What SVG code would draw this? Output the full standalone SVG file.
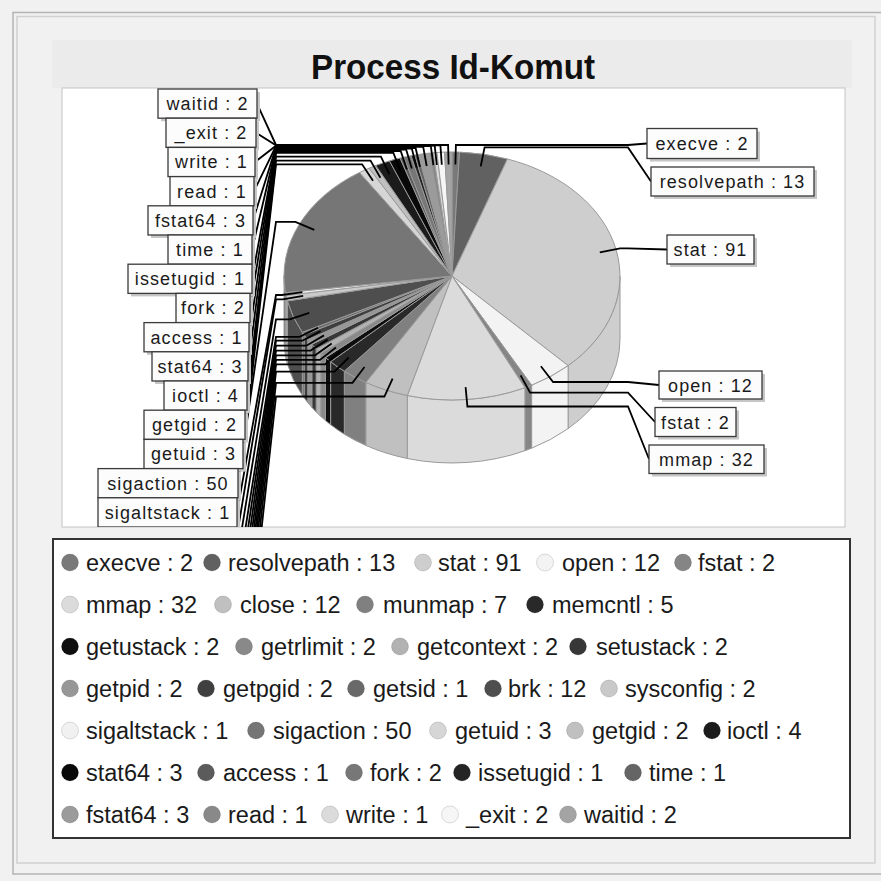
<svg xmlns="http://www.w3.org/2000/svg" width="881" height="881" viewBox="0 0 881 881">
<defs>
<style>
.panel{fill:#f1f1f1}
.frame-o{fill:none;stroke:#b4b4b4;stroke-width:1.5}
.frame-i{fill:none;stroke:#d0d0d0;stroke-width:1.5}
.title{font-family:"Liberation Sans",Arial,sans-serif;font-weight:bold;font-size:35px;fill:#111;text-anchor:middle}
.slice{stroke:#9a9a9a;stroke-width:1;stroke-linejoin:round}
.link{fill:none;stroke:#000;stroke-width:1.8;stroke-linejoin:miter}
.shadow{fill:#c6c6c6}
.box{fill:#fcfcfc;stroke:#3a3a3a;stroke-width:1.3}
.lt{font-family:"Liberation Sans",Arial,sans-serif;font-size:18px;letter-spacing:1.1px;fill:#1a1a1a;text-anchor:middle}
.legbox{fill:#fff;stroke:#333;stroke-width:2}
.lg{font-family:"Liberation Sans",Arial,sans-serif;font-size:23.5px;fill:#1a1a1a}
.dot{stroke:#000;stroke-opacity:.13;stroke-width:1}
</style>
<clipPath id="plotClip"><rect x="62" y="88" width="783" height="439"/></clipPath>
</defs>

<!-- panel background and etched frame -->
<rect class="panel" x="0" y="0" width="881" height="881"/>
<rect class="frame-o" x="13" y="12.5" width="872" height="861.5"/>
<rect class="frame-i" x="17" y="16.5" width="858" height="846.5"/>

<!-- title band -->
<rect x="52" y="40" width="800" height="48" fill="#ebebeb"/>
<text class="title" x="453" y="79" textLength="284" lengthAdjust="spacingAndGlyphs">Process Id-Komut</text>

<!-- plot area -->
<rect x="62" y="88" width="783" height="439" fill="#fff" stroke="#c4c4c4" stroke-width="1"/>

<g clip-path="url(#plotClip)">
<!-- pie: side wall (front half) then top face per section -->
<g id="pie">
<g id="slice-execve"><path class="slice" fill="#797979" d="M452,276 L452,152 A168,124 0 0 1 459.5,152.1 Z"/></g>
<g id="slice-resolvepath"><path class="slice" fill="#616161" d="M452,276 L459.5,152.1 A168,124 0 0 1 507.5,159 Z"/></g>
<g id="slice-stat">
<path class="slice" fill="#cecece" d="M620,276 A168,124 0 0 1 568.1,365.6 L568.1,428.6 A168,124 0 0 0 620,339 Z"/>
<path class="slice" fill="#cecece" d="M452,276 L507.5,159 A168,124 0 0 1 568.1,365.6 Z"/></g>
<g id="slice-open">
<path class="slice" fill="#f3f3f3" d="M568.1,365.6 A168,124 0 0 1 531.6,385.2 L531.6,448.2 A168,124 0 0 0 568.1,428.6 Z"/>
<path class="slice" fill="#f3f3f3" d="M452,276 L568.1,365.6 A168,124 0 0 1 531.6,385.2 Z"/></g>
<g id="slice-fstat">
<path class="slice" fill="#858585" d="M531.6,385.2 A168,124 0 0 1 524.9,387.7 L524.9,450.7 A168,124 0 0 0 531.6,448.2 Z"/>
<path class="slice" fill="#858585" d="M452,276 L531.6,385.2 A168,124 0 0 1 524.9,387.7 Z"/></g>
<g id="slice-mmap">
<path class="slice" fill="#dbdbdb" d="M524.9,387.7 A168,124 0 0 1 407.3,395.5 L407.3,458.5 A168,124 0 0 0 524.9,450.7 Z"/>
<path class="slice" fill="#dbdbdb" d="M452,276 L524.9,387.7 A168,124 0 0 1 407.3,395.5 Z"/></g>
<g id="slice-close">
<path class="slice" fill="#c0c0c0" d="M407.3,395.5 A168,124 0 0 1 365.8,382.4 L365.8,445.4 A168,124 0 0 0 407.3,458.5 Z"/>
<path class="slice" fill="#c0c0c0" d="M452,276 L407.3,395.5 A168,124 0 0 1 365.8,382.4 Z"/></g>
<g id="slice-munmap">
<path class="slice" fill="#808080" d="M365.8,382.4 A168,124 0 0 1 344.3,371.2 L344.3,434.2 A168,124 0 0 0 365.8,445.4 Z"/>
<path class="slice" fill="#808080" d="M452,276 L365.8,382.4 A168,124 0 0 1 344.3,371.2 Z"/></g>
<g id="slice-memcntl">
<path class="slice" fill="#292929" d="M344.3,371.2 A168,124 0 0 1 330.6,361.7 L330.6,424.7 A168,124 0 0 0 344.3,434.2 Z"/>
<path class="slice" fill="#292929" d="M452,276 L344.3,371.2 A168,124 0 0 1 330.6,361.7 Z"/></g>
<g id="slice-getustack">
<path class="slice" fill="#0e0e0e" d="M330.6,361.7 A168,124 0 0 1 325.5,357.6 L325.5,420.6 A168,124 0 0 0 330.6,424.7 Z"/>
<path class="slice" fill="#0e0e0e" d="M452,276 L330.6,361.7 A168,124 0 0 1 325.5,357.6 Z"/></g>
<g id="slice-getrlimit">
<path class="slice" fill="#898989" d="M325.5,357.6 A168,124 0 0 1 320.7,353.3 L320.7,416.3 A168,124 0 0 0 325.5,420.6 Z"/>
<path class="slice" fill="#898989" d="M452,276 L325.5,357.6 A168,124 0 0 1 320.7,353.3 Z"/></g>
<g id="slice-getcontext">
<path class="slice" fill="#b2b2b2" d="M320.7,353.3 A168,124 0 0 1 316.1,348.9 L316.1,411.9 A168,124 0 0 0 320.7,416.3 Z"/>
<path class="slice" fill="#b2b2b2" d="M452,276 L320.7,353.3 A168,124 0 0 1 316.1,348.9 Z"/></g>
<g id="slice-setustack">
<path class="slice" fill="#373737" d="M316.1,348.9 A168,124 0 0 1 311.8,344.3 L311.8,407.3 A168,124 0 0 0 316.1,411.9 Z"/>
<path class="slice" fill="#373737" d="M452,276 L316.1,348.9 A168,124 0 0 1 311.8,344.3 Z"/></g>
<g id="slice-getpid">
<path class="slice" fill="#979797" d="M311.8,344.3 A168,124 0 0 1 307.8,339.6 L307.8,402.6 A168,124 0 0 0 311.8,407.3 Z"/>
<path class="slice" fill="#979797" d="M452,276 L311.8,344.3 A168,124 0 0 1 307.8,339.6 Z"/></g>
<g id="slice-getpgid">
<path class="slice" fill="#404040" d="M307.8,339.6 A168,124 0 0 1 304.1,334.8 L304.1,397.8 A168,124 0 0 0 307.8,402.6 Z"/>
<path class="slice" fill="#404040" d="M452,276 L307.8,339.6 A168,124 0 0 1 304.1,334.8 Z"/></g>
<g id="slice-getsid">
<path class="slice" fill="#696969" d="M304.1,334.8 A168,124 0 0 1 302.3,332.3 L302.3,395.3 A168,124 0 0 0 304.1,397.8 Z"/>
<path class="slice" fill="#696969" d="M452,276 L304.1,334.8 A168,124 0 0 1 302.3,332.3 Z"/></g>
<g id="slice-brk">
<path class="slice" fill="#4e4e4e" d="M302.3,332.3 A168,124 0 0 1 287.4,300.9 L287.4,363.9 A168,124 0 0 0 302.3,395.3 Z"/>
<path class="slice" fill="#4e4e4e" d="M452,276 L302.3,332.3 A168,124 0 0 1 287.4,300.9 Z"/></g>
<g id="slice-sysconfig">
<path class="slice" fill="#c9c9c9" d="M287.4,300.9 A168,124 0 0 1 286.1,295.4 L286.1,358.4 A168,124 0 0 0 287.4,363.9 Z"/>
<path class="slice" fill="#c9c9c9" d="M452,276 L287.4,300.9 A168,124 0 0 1 286.1,295.4 Z"/></g>
<g id="slice-sigaltstack">
<path class="slice" fill="#f1f1f1" d="M286.1,295.4 A168,124 0 0 1 285.5,292.6 L285.5,355.6 A168,124 0 0 0 286.1,358.4 Z"/>
<path class="slice" fill="#f1f1f1" d="M452,276 L286.1,295.4 A168,124 0 0 1 285.5,292.6 Z"/></g>
<g id="slice-sigaction">
<path class="slice" fill="#767676" d="M285.5,292.6 A168,124 0 0 1 284,276 L284,339 A168,124 0 0 0 285.5,355.6 Z"/>
<path class="slice" fill="#767676" d="M452,276 L285.5,292.6 A168,124 0 0 1 359.5,172.5 Z"/></g>
<g id="slice-getuid"><path class="slice" fill="#d6d6d6" d="M452,276 L359.5,172.5 A168,124 0 0 1 369.1,168.2 Z"/></g>
<g id="slice-getgid"><path class="slice" fill="#c0c0c0" d="M452,276 L369.1,168.2 A168,124 0 0 1 375.7,165.5 Z"/></g>
<g id="slice-ioctl"><path class="slice" fill="#1b1b1b" d="M452,276 L375.7,165.5 A168,124 0 0 1 389.5,160.9 Z"/></g>
<g id="slice-stat64"><path class="slice" fill="#090909" d="M452,276 L389.5,160.9 A168,124 0 0 1 400.1,158.1 Z"/></g>
<g id="slice-access"><path class="slice" fill="#5b5b5b" d="M452,276 L400.1,158.1 A168,124 0 0 1 403.7,157.2 Z"/></g>
<g id="slice-fork"><path class="slice" fill="#777777" d="M452,276 L403.7,157.2 A168,124 0 0 1 411,155.8 Z"/></g>
<g id="slice-issetugid"><path class="slice" fill="#242424" d="M452,276 L411,155.8 A168,124 0 0 1 414.6,155.1 Z"/></g>
<g id="slice-time"><path class="slice" fill="#656565" d="M452,276 L414.6,155.1 A168,124 0 0 1 418.3,154.5 Z"/></g>
<g id="slice-fstat64"><path class="slice" fill="#9b9b9b" d="M452,276 L418.3,154.5 A168,124 0 0 1 429.4,153.1 Z"/></g>
<g id="slice-read"><path class="slice" fill="#898989" d="M452,276 L429.4,153.1 A168,124 0 0 1 433.2,152.8 Z"/></g>
<g id="slice-write"><path class="slice" fill="#dbdbdb" d="M452,276 L433.2,152.8 A168,124 0 0 1 436.9,152.5 Z"/></g>
<g id="slice-exit"><path class="slice" fill="#f6f6f6" d="M452,276 L436.9,152.5 A168,124 0 0 1 444.5,152.1 Z"/></g>
<g id="slice-waitid"><path class="slice" fill="#a4a4a4" d="M452,276 L444.5,152.1 A168,124 0 0 1 452,152 Z"/></g>
</g>

<!-- label links: slice point, elbow, anchor, label -->
<g id="connectors">
<polyline class="link" points="455.4,164.4 455.9,145 628,145 647,143.5"/>
<polyline class="link" points="480.7,166.4 484.6,147.4 628,147.4 651,181.5"/>
<polyline class="link" points="599.8,252.4 620.1,248.3 628,248.3 667,249.5"/>
<polyline class="link" points="540.9,366.3 553.1,382 628,382 659,385"/>
<polyline class="link" points="520.6,375.4 530.1,392.7 628,392.7 655,422"/>
<polyline class="link" points="465.6,387.2 467.4,406.5 628,406.5 649,459"/>
<polyline class="link" points="392.6,378.6 384.4,396.5 276,396.5 225,862.8"/>
<polyline class="link" points="364.5,367 352.5,382.8 276,382.8 226,833.6"/>
<polyline class="link" points="348.8,357.5 334.5,371.7 276,371.7 227,804.4"/>
<polyline class="link" points="340.4,351.3 325,364.4 276,364.4 228,775.2"/>
<polyline class="link" points="335.9,347.5 319.9,359.9 276,359.9 229,746"/>
<polyline class="link" points="331.7,343.6 315.1,355.3 276,355.3 230,716.8"/>
<polyline class="link" points="327.7,339.6 310.6,350.6 276,350.6 231,687.6"/>
<polyline class="link" points="324,335.4 306.4,345.7 276,345.7 232,658.4"/>
<polyline class="link" points="320.5,331.1 302.4,340.7 276,340.7 233,629.2"/>
<polyline class="link" points="318,327.8 299.6,336.8 276,336.8 234,600"/>
<polyline class="link" points="309.3,312.9 289.7,319.3 276,319.3 235,570.8"/>
<polyline class="link" points="303.2,295.9 282.8,299.4 276,299.4 236,541.6"/>
<polyline class="link" points="302.4,292.2 281.8,295 276,295 237,512.4"/>
<polyline class="link" points="314.3,229.8 295.4,221.8 276,221.8 238,483.2"/>
<polyline class="link" points="373,180.8 362.1,164.3 276,164.3 243,454"/>
<polyline class="link" points="380.4,177.7 370.5,160.6 276,160.6 245,424.8"/>
<polyline class="link" points="389.5,174.4 380.9,156.7 276,156.7 247,395.6"/>
<polyline class="link" points="400.5,171.1 393.4,152.8 276,152.8 248,366.4"/>
<polyline class="link" points="406.9,169.5 400.7,151 276,151 249,337.2"/>
<polyline class="link" points="411.8,168.4 406.2,149.7 276,149.7 250,308"/>
<polyline class="link" points="416.7,167.5 411.8,148.6 276,148.6 252,278.8"/>
<polyline class="link" points="420,166.9 415.6,148 276,148 252,249.6"/>
<polyline class="link" points="426.7,166 423.2,146.9 276,146.9 253,220.4"/>
<polyline class="link" points="433.4,165.2 430.8,146 276,146 254,191.2"/>
<polyline class="link" points="436.8,165 434.7,145.7 276,145.7 255,162"/>
<polyline class="link" points="441.8,164.7 440.4,145.3 276,145.3 256,132.8"/>
<polyline class="link" points="448.6,164.4 448.1,145 276,145 257,103.6"/>
</g>

<!-- section labels, right column -->
<g id="label-execve"><rect class="shadow" x="650" y="131.5" width="110" height="30"/><rect class="box" x="647" y="128.5" width="110" height="30"/><text class="lt" x="702" y="150">execve : 2</text></g>
<g id="label-resolvepath"><rect class="shadow" x="654" y="170" width="163" height="29"/><rect class="box" x="651" y="167" width="163" height="29"/><text class="lt" x="732.5" y="188">resolvepath : 13</text></g>
<g id="label-stat"><rect class="shadow" x="670" y="238" width="87" height="29"/><rect class="box" x="667" y="235" width="87" height="29"/><text class="lt" x="710.5" y="256">stat : 91</text></g>
<g id="label-open"><rect class="shadow" x="662" y="374" width="103" height="28"/><rect class="box" x="659" y="371" width="103" height="28"/><text class="lt" x="710.5" y="391.5">open : 12</text></g>
<g id="label-fstat"><rect class="shadow" x="658" y="410.5" width="81" height="29"/><rect class="box" x="655" y="407.5" width="81" height="29"/><text class="lt" x="695.5" y="428.5">fstat : 2</text></g>
<g id="label-mmap"><rect class="shadow" x="652" y="448" width="115" height="28.5"/><rect class="box" x="649" y="445" width="115" height="28.5"/><text class="lt" x="706.5" y="465.5">mmap : 32</text></g>

<!-- section labels, left column -->
<g id="label-waitid"><rect class="shadow" x="161" y="92" width="99" height="29.2"/><rect class="box" x="158" y="89" width="99" height="29.2"/><text class="lt" x="207.5" y="110">waitid : 2</text></g>
<g id="label-exit"><rect class="shadow" x="169" y="121.2" width="90" height="29.2"/><rect class="box" x="166" y="118.2" width="90" height="29.2"/><text class="lt" x="211" y="139.2">_exit : 2</text></g>
<g id="label-write"><rect class="shadow" x="171" y="150.4" width="87" height="29.2"/><rect class="box" x="168" y="147.4" width="87" height="29.2"/><text class="lt" x="211.5" y="168.4">write : 1</text></g>
<g id="label-read"><rect class="shadow" x="173" y="179.6" width="84" height="29.2"/><rect class="box" x="170" y="176.6" width="84" height="29.2"/><text class="lt" x="212" y="197.6">read : 1</text></g>
<g id="label-fstat64"><rect class="shadow" x="151" y="208.8" width="105" height="29.2"/><rect class="box" x="148" y="205.8" width="105" height="29.2"/><text class="lt" x="200.5" y="226.8">fstat64 : 3</text></g>
<g id="label-time"><rect class="shadow" x="171" y="238" width="84" height="29.2"/><rect class="box" x="168" y="235" width="84" height="29.2"/><text class="lt" x="210" y="256">time : 1</text></g>
<g id="label-issetugid"><rect class="shadow" x="131" y="267.2" width="124" height="29.2"/><rect class="box" x="128" y="264.2" width="124" height="29.2"/><text class="lt" x="190" y="285.2">issetugid : 1</text></g>
<g id="label-fork"><rect class="shadow" x="179" y="296.4" width="74" height="29.2"/><rect class="box" x="176" y="293.4" width="74" height="29.2"/><text class="lt" x="213" y="314.4">fork : 2</text></g>
<g id="label-access"><rect class="shadow" x="147" y="325.6" width="105" height="29.2"/><rect class="box" x="144" y="322.6" width="105" height="29.2"/><text class="lt" x="196.5" y="343.6">access : 1</text></g>
<g id="label-stat64"><rect class="shadow" x="155" y="354.8" width="96" height="29.2"/><rect class="box" x="152" y="351.8" width="96" height="29.2"/><text class="lt" x="200" y="372.8">stat64 : 3</text></g>
<g id="label-ioctl"><rect class="shadow" x="167" y="384" width="83" height="29.2"/><rect class="box" x="164" y="381" width="83" height="29.2"/><text class="lt" x="205.5" y="402">ioctl : 4</text></g>
<g id="label-getgid"><rect class="shadow" x="147" y="413.2" width="101" height="29.2"/><rect class="box" x="144" y="410.2" width="101" height="29.2"/><text class="lt" x="194.5" y="431.2">getgid : 2</text></g>
<g id="label-getuid"><rect class="shadow" x="147" y="442.4" width="99" height="29.2"/><rect class="box" x="144" y="439.4" width="99" height="29.2"/><text class="lt" x="193.5" y="460.4">getuid : 3</text></g>
<g id="label-sigaction"><rect class="shadow" x="101" y="471.6" width="140" height="29.2"/><rect class="box" x="98" y="468.6" width="140" height="29.2"/><text class="lt" x="168" y="489.6">sigaction : 50</text></g>
<g id="label-sigaltstack"><rect class="shadow" x="101" y="500.8" width="139" height="29.2"/><rect class="box" x="98" y="497.8" width="139" height="29.2"/><text class="lt" x="167.5" y="518.8">sigaltstack : 1</text></g>
</g>

<!-- legend -->
<g id="legend">
<rect class="legbox" x="53" y="539" width="797" height="299"/>
<g id="legend-row1">
<circle class="dot" cx="70" cy="562.5" r="8.5" fill="#797979"/><text class="lg" x="86" y="571">execve : 2</text>
<circle class="dot" cx="212" cy="562.5" r="8.5" fill="#616161"/><text class="lg" x="228" y="571">resolvepath : 13</text>
<circle class="dot" cx="423" cy="562.5" r="8.5" fill="#cecece"/><text class="lg" x="438" y="571">stat : 91</text>
<circle class="dot" cx="545" cy="562.5" r="8.5" fill="#f3f3f3"/><text class="lg" x="562" y="571">open : 12</text>
<circle class="dot" cx="683" cy="562.5" r="8.5" fill="#858585"/><text class="lg" x="698" y="571">fstat : 2</text>
</g>
<g id="legend-row2">
<circle class="dot" cx="70" cy="604.5" r="8.5" fill="#dbdbdb"/><text class="lg" x="86" y="613">mmap : 32</text>
<circle class="dot" cx="223" cy="604.5" r="8.5" fill="#c0c0c0"/><text class="lg" x="240" y="613">close : 12</text>
<circle class="dot" cx="365" cy="604.5" r="8.5" fill="#808080"/><text class="lg" x="383" y="613">munmap : 7</text>
<circle class="dot" cx="535" cy="604.5" r="8.5" fill="#292929"/><text class="lg" x="552" y="613">memcntl : 5</text>
</g>
<g id="legend-row3">
<circle class="dot" cx="70" cy="646.5" r="8.5" fill="#0e0e0e"/><text class="lg" x="86" y="655">getustack : 2</text>
<circle class="dot" cx="244" cy="646.5" r="8.5" fill="#898989"/><text class="lg" x="261" y="655">getrlimit : 2</text>
<circle class="dot" cx="400" cy="646.5" r="8.5" fill="#b2b2b2"/><text class="lg" x="417" y="655">getcontext : 2</text>
<circle class="dot" cx="578" cy="646.5" r="8.5" fill="#373737"/><text class="lg" x="596" y="655">setustack : 2</text>
</g>
<g id="legend-row4">
<circle class="dot" cx="70" cy="688.5" r="8.5" fill="#979797"/><text class="lg" x="86" y="697">getpid : 2</text>
<circle class="dot" cx="206" cy="688.5" r="8.5" fill="#404040"/><text class="lg" x="223" y="697">getpgid : 2</text>
<circle class="dot" cx="356" cy="688.5" r="8.5" fill="#696969"/><text class="lg" x="373" y="697">getsid : 1</text>
<circle class="dot" cx="493" cy="688.5" r="8.5" fill="#4e4e4e"/><text class="lg" x="508" y="697">brk : 12</text>
<circle class="dot" cx="609" cy="688.5" r="8.5" fill="#c9c9c9"/><text class="lg" x="625" y="697">sysconfig : 2</text>
</g>
<g id="legend-row5">
<circle class="dot" cx="70" cy="730.5" r="8.5" fill="#f1f1f1"/><text class="lg" x="86" y="739">sigaltstack : 1</text>
<circle class="dot" cx="256" cy="730.5" r="8.5" fill="#767676"/><text class="lg" x="273" y="739">sigaction : 50</text>
<circle class="dot" cx="438" cy="730.5" r="8.5" fill="#d6d6d6"/><text class="lg" x="455" y="739">getuid : 3</text>
<circle class="dot" cx="575" cy="730.5" r="8.5" fill="#c0c0c0"/><text class="lg" x="592" y="739">getgid : 2</text>
<circle class="dot" cx="712" cy="730.5" r="8.5" fill="#1b1b1b"/><text class="lg" x="727" y="739">ioctl : 4</text>
</g>
<g id="legend-row6">
<circle class="dot" cx="70" cy="772.5" r="8.5" fill="#090909"/><text class="lg" x="86" y="781">stat64 : 3</text>
<circle class="dot" cx="206" cy="772.5" r="8.5" fill="#5b5b5b"/><text class="lg" x="223" y="781">access : 1</text>
<circle class="dot" cx="354" cy="772.5" r="8.5" fill="#777777"/><text class="lg" x="370" y="781">fork : 2</text>
<circle class="dot" cx="462" cy="772.5" r="8.5" fill="#242424"/><text class="lg" x="478" y="781">issetugid : 1</text>
<circle class="dot" cx="633" cy="772.5" r="8.5" fill="#656565"/><text class="lg" x="649" y="781">time : 1</text>
</g>
<g id="legend-row7">
<circle class="dot" cx="70" cy="814.5" r="8.5" fill="#9b9b9b"/><text class="lg" x="86" y="823">fstat64 : 3</text>
<circle class="dot" cx="212" cy="814.5" r="8.5" fill="#898989"/><text class="lg" x="228" y="823">read : 1</text>
<circle class="dot" cx="330" cy="814.5" r="8.5" fill="#dbdbdb"/><text class="lg" x="346" y="823">write : 1</text>
<circle class="dot" cx="450" cy="814.5" r="8.5" fill="#f6f6f6"/><text class="lg" x="466" y="823">_exit : 2</text>
<circle class="dot" cx="568" cy="814.5" r="8.5" fill="#a4a4a4"/><text class="lg" x="584" y="823">waitid : 2</text>
</g>
</g>
</svg>
